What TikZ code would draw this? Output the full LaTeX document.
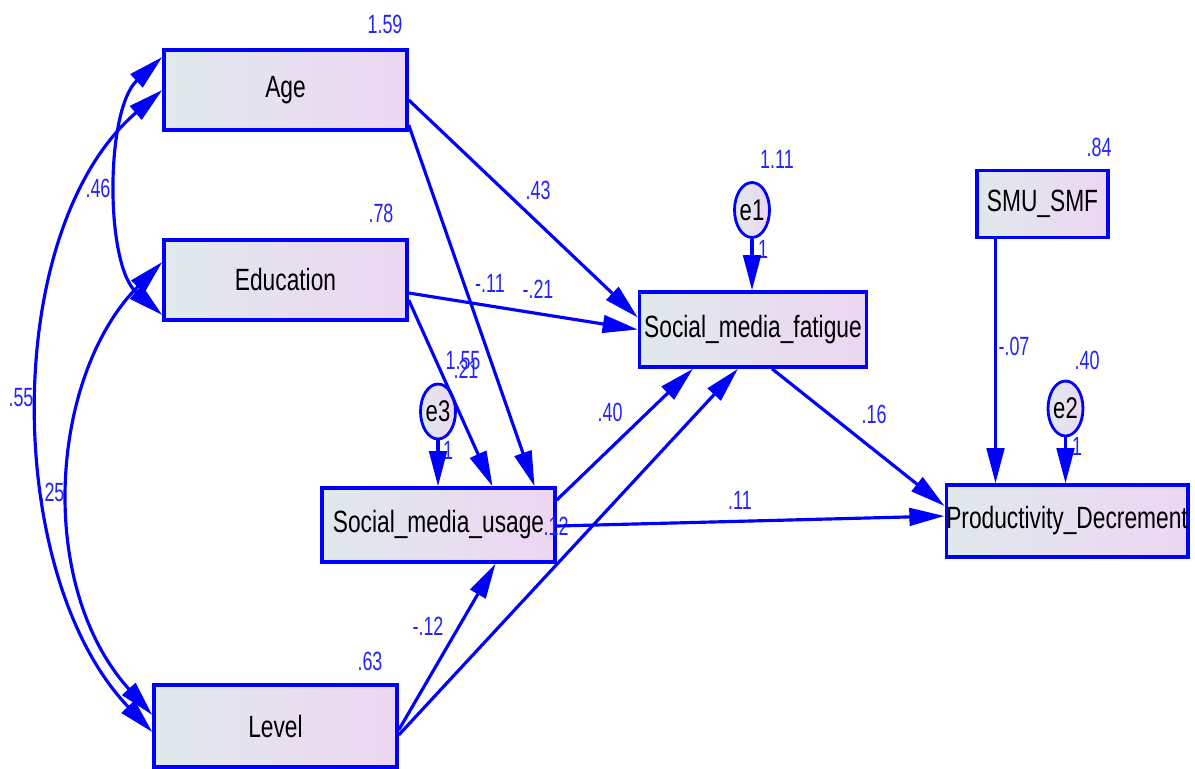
\documentclass[tikz,border=0pt]{standalone}
\usepackage{fontspec}
\newfontfamily\boxfont{Liberation Sans}[FakeStretch=0.74]
\newfontfamily\labfont{Liberation Sans}[FakeStretch=0.68]
\usetikzlibrary{arrows.meta,calc,shapes.geometric}
\definecolor{amosblue}{RGB}{0,0,255}
\definecolor{labblue}{RGB}{35,35,250}
\definecolor{fillleft}{RGB}{224,233,236}
\definecolor{fillright}{RGB}{237,214,243}
\tikzset{
  var/.style={draw=amosblue,line width=2pt,left color=fillleft,right color=fillright,inner sep=0pt,text=black,font=\boxfont\fontsize{17.5}{19}\selectfont},
  err/.style={ellipse,draw=amosblue,line width=1.6pt,left color=fillleft,right color=fillright,inner sep=0pt,minimum width=0.7cm,minimum height=1.1cm,text=black,font=\boxfont\fontsize{17}{19}\selectfont},
  est/.style={text=labblue,inner sep=0pt,font=\labfont\fontsize{15}{17}\selectfont}
}

\begin{document}
\begin{tikzpicture}[->,>={Triangle[length=20pt,width=10pt]},x=0.02cm,y=-0.02cm,line width=1.8pt,draw=amosblue]
                \useasboundingbox (0,0) rectangle (1195,768);
                % observed variables
                \node[var,minimum width=4.86cm,minimum height=1.6cm](age)at(285.5, 90){Age};
                \node[var,minimum width=4.86cm,minimum height=1.6cm](edu)at(285.5, 280){Education};
                \node[var,minimum width=4.86cm,minimum height=1.64cm](level)at(275.5, 726){Level};
                \node[var,minimum width=4.66cm,minimum height=1.48cm](smu)at(438.5, 525){Social\_media\_usage};
                \node[var,minimum width=4.54cm,minimum height=1.5cm](smf)at(753, 329.5){Social\_media\_fatigue};
                \node[var,minimum width=2.62cm,minimum height=1.34cm](smusmf)at(1042.5, 204){SMU\_SMF};
                \node[var,minimum width=4.8cm,minimum height=1.44cm](pd)at(1067, 521){Productivity\_Decrement};
                % error terms
                \node[err](e1)at(752, 210){e1};
                \node[err](e3)at(438, 411.5){e3};
                \node[err](e2)at(1065.5, 408.5){e2};
                % variances
                \node[est](vage)at(385, 24){1.59};
                \node[est](vedu)at(381, 213){.78};
                \node[est](vlevel)at(370, 661){.63};
                \node[est](vsmusmf)at(1099, 147){.84};
                \node[est](ve1)at(777, 159){1.11};
                \node[est](ve3)at(463, 361){1.55};
                \node[est](ve2)at(1087, 360){.40};
                % weights
                \node[est](w1)at(763, 249){1};
                \node[est](w3)at(448, 450){1};
                \node[est](w2)at(1077, 446){1};
                \node[est](cae)at(98, 188){.46};
                \node[est](cal)at(21, 398){.55};
                \node[est](cel)at(52, 492){.25};
                \node[est](bagef)at(538, 190){.43};
                \node[est](bageu)at(490, 283){-.11};
                \node[est](beduf)at(538, 289){-.21};
                \node[est](bedu)at(466, 369){.21};
                \node[est](buf)at(610, 412){.40};
                \node[est](bup)at(556, 526){.12};
                \node[est](bupd)at(740, 500){.11};
                \node[est](bfp)at(874, 414){.16};
                \node[est](blu)at(428, 626){-.12};
                \node[est](bsp)at(1014, 346){-.07};
                \path[]($(age.east)+(0,10)$) edge ($(smf.west)+(0,-12)$)
                ($(age.east)+(0,35)$) edge ($(smu.north)+(96,0)$)
                ($(edu.east)+(0,13)$) edge (smf.west)
                ($(edu.east)+(0,20)$) edge ($(smu.north)+(54,0)$)
                (e3.south) edge (e3.south |- smu.north)
                (e1.south) edge (e1.south |- smf.north)
                (e2.south) edge (e2.south |- pd.north)
                ($(smu.east)+(0,-25)$) edge ($(smf.south)+(-60,0)$)
                ($(level.east)+(0,9)$) edge ($(smf.south)+(-15,0)$)
                ($(level.east)+(0,4)$) edge ($(smu.south)+(57,0)$)
                ($(smf.south)+(19,0)$) edge ($(pd.west)+(0,-15)$)
                ($(smu.east)+(0,1)$) edge ($(pd.west)+(0,-5)$)
                ($(smusmf.south)+(-47,0)$) coordinate (smusmfout) edge (smusmfout |- pd.north);
                % covariances
                \draw[<->]($(age.west)+(0,-33)$) .. controls (105,110) and (105,265) .. ($(edu.west)+(0,35)$);
                \draw[<->](age.west) .. controls (0,230) and (3,576) .. ($(level.west)+(0,6)$);
                \draw[<->]($(edu.west)+(0,-18)$) .. controls (50,375) and (35,585) .. ($(level.west)+(0,-11)$);
            \end{tikzpicture}
\end{document}
